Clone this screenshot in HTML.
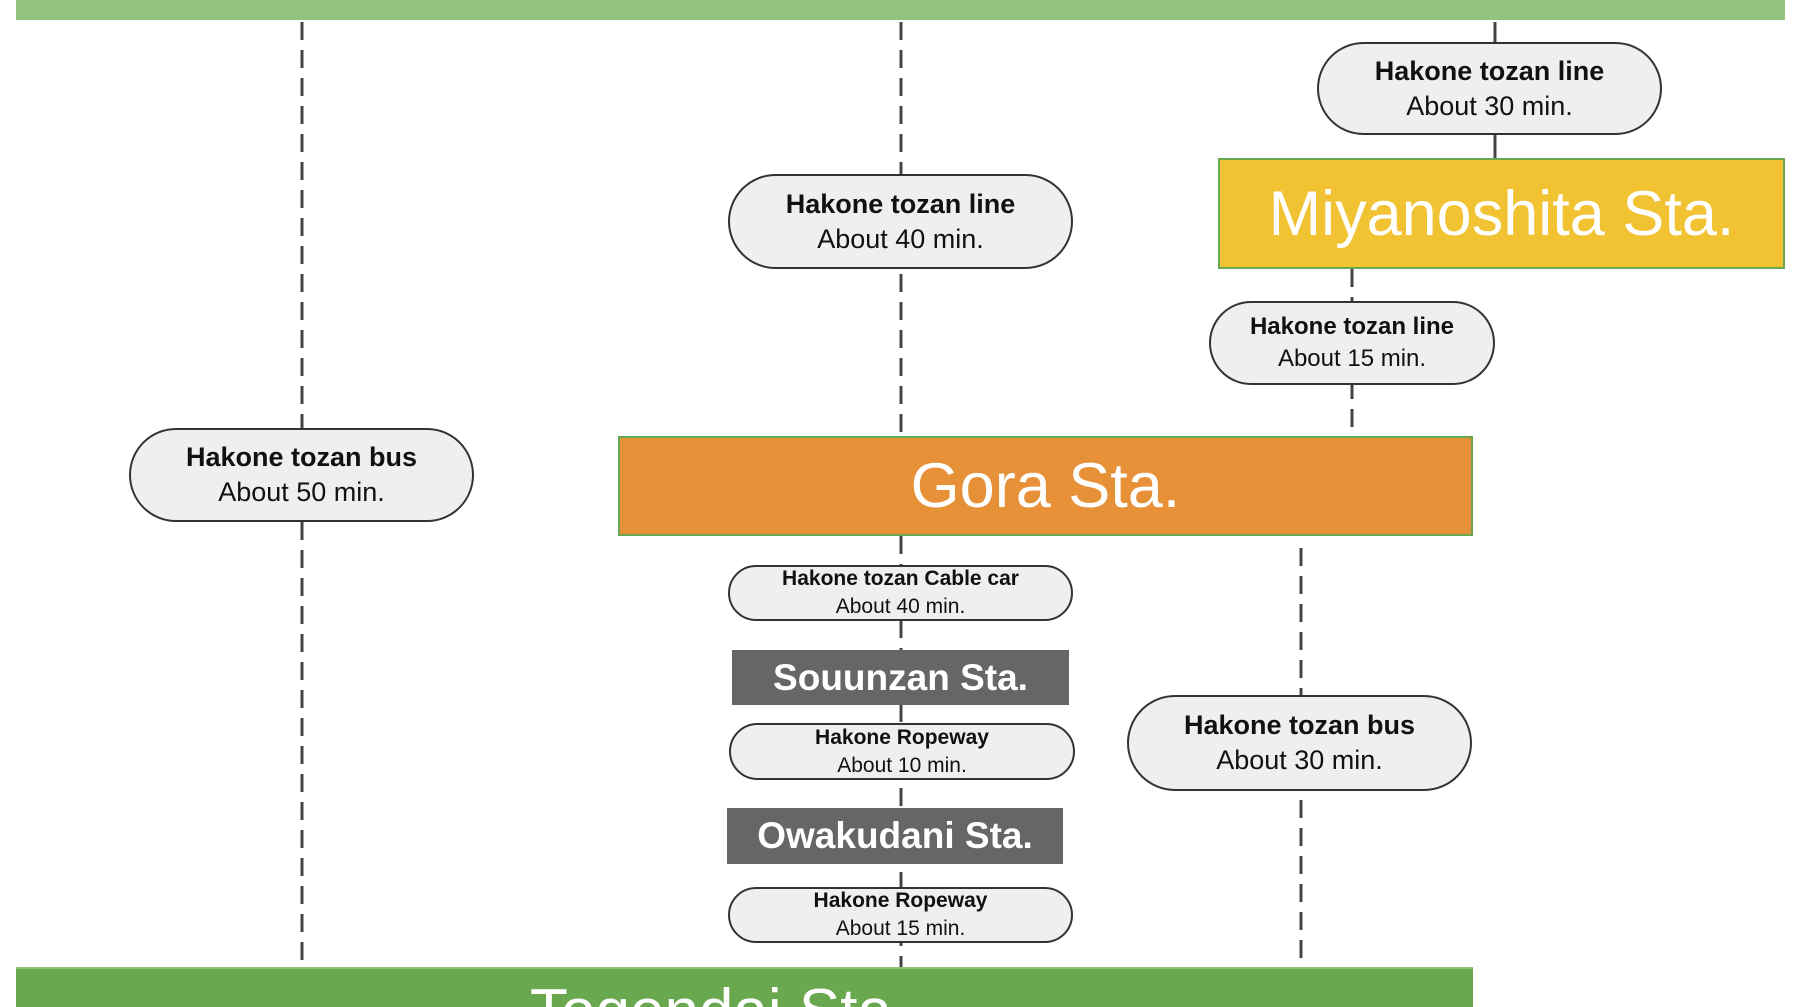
<!DOCTYPE html>
<html><head><style>
body{margin:0;width:1800px;height:1000px;overflow:hidden;background:#fff;position:relative;font-family:"Liberation Sans",Arial,sans-serif}
.a{position:absolute;box-sizing:border-box}
.pill{border:2px solid #333;background:#efefef;border-radius:50px;display:flex;flex-direction:column;justify-content:center;align-items:center;color:#111;text-align:center;white-space:nowrap}
.big{font-size:27px;line-height:35px}
.sm{font-size:21px;line-height:28px}
.pill b{font-weight:bold}
.st{display:flex;align-items:center;justify-content:center;color:#fff;white-space:nowrap}
</style></head><body>
<svg class="a" style="left:0;top:0" width="1800" height="1000">
<g stroke="#444" stroke-width="3" stroke-dasharray="18 10" fill="none">
<line x1="302" y1="22" x2="302" y2="428"/>
<line x1="302" y1="522" x2="302" y2="965"/>
<line x1="901" y1="22" x2="901" y2="436"/>
<line x1="901" y1="536" x2="901" y2="967"/>
<line x1="1352" y1="269" x2="1352" y2="436"/>
<line x1="1301" y1="548" x2="1301" y2="962"/>
</g>
<g stroke="#444" stroke-width="3">
<line x1="1495" y1="22" x2="1495" y2="42"/>
<line x1="1495" y1="135" x2="1495" y2="158"/>
</g>
</svg>
<div class="a" style="left:16px;top:0;width:1769px;height:20px;background:#93c47d;overflow:hidden"><div style="position:absolute;left:580px;top:-60px;font-size:62px;color:#b9dcaa">Hakone-Yumoto Sta.</div></div>
<div class="a pill big" style="left:1317px;top:42px;width:345px;height:93px"><b>Hakone tozan line</b>About 30 min.</div>
<div class="a st" style="left:1218px;top:158px;width:567px;height:111px;background:#f1c232;border:2px solid #6aa84f;font-size:63px">Miyanoshita Sta.</div>
<div class="a pill big" style="left:728px;top:174px;width:345px;height:95px"><b>Hakone tozan line</b>About 40 min.</div>
<div class="a pill sm" style="left:1209px;top:301px;width:286px;height:84px;font-size:24px;line-height:32px"><b>Hakone tozan line</b>About 15 min.</div>
<div class="a st" style="left:618px;top:436px;width:855px;height:100px;background:#e69138;border:2px solid #6aa84f;font-size:63px">Gora Sta.</div>
<div class="a pill big" style="left:129px;top:428px;width:345px;height:94px"><b>Hakone tozan bus</b>About 50 min.</div>
<div class="a pill sm" style="left:728px;top:565px;width:345px;height:56px"><b>Hakone tozan Cable car</b>About 40 min.</div>
<div class="a st" style="left:732px;top:650px;width:337px;height:55px;background:#666;font-size:37px;font-weight:bold">Souunzan Sta.</div>
<div class="a pill sm" style="left:729px;top:723px;width:346px;height:57px"><b>Hakone Ropeway</b>About 10 min.</div>
<div class="a st" style="left:727px;top:808px;width:336px;height:56px;background:#666;font-size:37px;font-weight:bold">Owakudani Sta.</div>
<div class="a pill sm" style="left:728px;top:887px;width:345px;height:56px"><b>Hakone Ropeway</b>About 15 min.</div>
<div class="a pill big" style="left:1127px;top:695px;width:345px;height:96px"><b>Hakone tozan bus</b>About 30 min.</div>
<div class="a" style="left:16px;top:967px;width:1457px;height:40px;background:#6aa84f;border-top:2px solid #93c47d;overflow:hidden"><div style="position:absolute;left:514px;top:10px;font-size:62px;color:#fff;line-height:66px">Togendai Sta.</div></div>
</body></html>
